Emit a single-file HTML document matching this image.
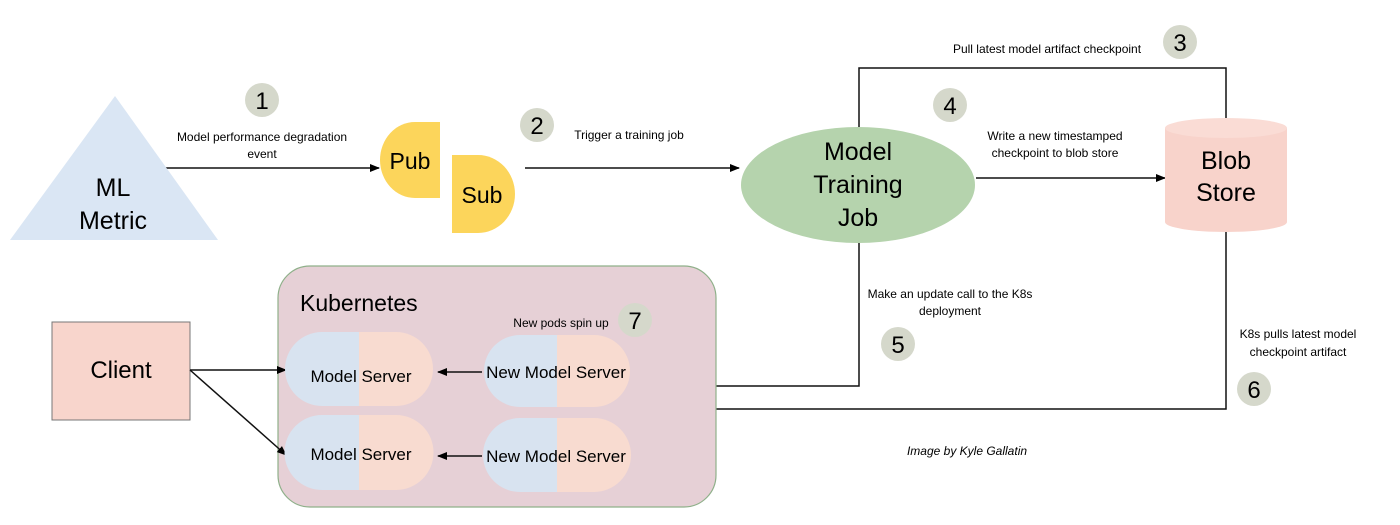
<!DOCTYPE html>
<html><head><style>html,body{margin:0;padding:0;background:#fff;}svg{display:block;}</style></head>
<body>
<svg width="1400" height="525" viewBox="0 0 1400 525" xmlns="http://www.w3.org/2000/svg" font-family="Liberation Sans, Arial, sans-serif">
<defs><marker id="a" markerWidth="10" markerHeight="10" refX="9" refY="5" orient="auto" markerUnits="userSpaceOnUse"><path d="M0,1 L10,5 L0,9 Z" fill="#000"/></marker></defs>
<g stroke="#111" stroke-width="1.5" fill="none">
<line x1="120" y1="168" x2="379" y2="168" marker-end="url(#a)"/>
<line x1="525" y1="168" x2="739" y2="168" marker-end="url(#a)"/>
<polyline points="859,127 859,68 1226,68 1226,118"/>
<line x1="976" y1="178" x2="1165" y2="178" marker-end="url(#a)"/>
<polyline points="859,243 859,386 716,386"/>
<polyline points="1226,232 1226,409 716,409"/>
</g>
<polygon points="115,96 218,240 10,240" fill="#dae6f4"/>
<text x="113" y="196" font-size="25" text-anchor="middle">ML</text>
<text x="113" y="229" font-size="25" text-anchor="middle">Metric</text>
<path d="M440,122 L440,198 L415,198 A35,38 0 0 1 415,122 Z" fill="#fcd55b"/>
<text x="410" y="169" font-size="23" text-anchor="middle">Pub</text>
<path d="M452,155 L478,155 A37,39 0 0 1 478,233 L452,233 Z" fill="#fcd55b"/>
<text x="482" y="203" font-size="23" text-anchor="middle">Sub</text>
<ellipse cx="858" cy="185" rx="117" ry="58" fill="#b5d3ad"/>
<text x="858" y="160" font-size="25" text-anchor="middle">Model</text>
<text x="858" y="193" font-size="25" text-anchor="middle">Training</text>
<text x="858" y="226" font-size="25" text-anchor="middle">Job</text>
<path d="M1165,128 L1165,222 A61,10 0 0 0 1287,222 L1287,128 Z" fill="#f8d3cb"/>
<ellipse cx="1226" cy="128" rx="61" ry="10" fill="#fadcd5"/>
<text x="1226" y="169" font-size="25" text-anchor="middle">Blob</text>
<text x="1226" y="201" font-size="25" text-anchor="middle">Store</text>
<rect x="52" y="322" width="138" height="98" fill="#f8d5cc" stroke="#777" stroke-width="1"/>
<text x="121" y="378" font-size="24" text-anchor="middle">Client</text>
<rect x="278" y="266" width="438" height="241" rx="32" fill="#e6d0d6" stroke="#8fb08a" stroke-width="1.2"/>
<text x="300" y="311" font-size="23">Kubernetes</text>
<g stroke="#111" stroke-width="1.5">
<line x1="190" y1="370" x2="286" y2="370" marker-end="url(#a)"/>
<line x1="190" y1="370" x2="286" y2="455" marker-end="url(#a)"/>
</g>
<g>
<path d="M359,332 L322,332 A37,37 0 0 0 322,406 L359,406 Z" fill="#d8e3f0"/>
<path d="M359,332 L396,332 A37,37 0 0 1 396,406 L359,406 Z" fill="#f8dbd0"/>
<path d="M359,415 L322,415 A37,37 0 0 0 322,490 L359,490 Z" fill="#d8e3f0"/>
<path d="M359,415 L396,415 A37,37 0 0 1 396,490 L359,490 Z" fill="#f8dbd0"/>
<path d="M557,335 L520,335 A36,36 0 0 0 520,407 L557,407 Z" fill="#d8e3f0"/>
<path d="M557,335 L594,335 A36,36 0 0 1 594,407 L557,407 Z" fill="#f8dbd0"/>
<path d="M557,418 L520,418 A37,37 0 0 0 520,492 L557,492 Z" fill="#d8e3f0"/>
<path d="M557,418 L594,418 A37,37 0 0 1 594,492 L557,492 Z" fill="#f8dbd0"/>
</g>
<g font-size="17" text-anchor="middle">
<text x="361" y="382">Model Server</text>
<text x="361" y="460">Model Server</text>
<text x="556" y="378">New Model Server</text>
<text x="556" y="462">New Model Server</text>
</g>
<g stroke="#111" stroke-width="1.5">
<line x1="482" y1="372" x2="438" y2="372" marker-end="url(#a)"/>
<line x1="482" y1="456" x2="438" y2="456" marker-end="url(#a)"/>
</g>
<g font-size="12" text-anchor="middle">
<text x="262" y="141">Model performance degradation</text>
<text x="262" y="158">event</text>
<text x="629" y="139">Trigger a training job</text>
<text x="1047" y="53">Pull latest model artifact checkpoint</text>
<text x="1055" y="140">Write a new timestamped</text>
<text x="1055" y="157">checkpoint to blob store</text>
<text x="950" y="298">Make an update call to the K8s</text>
<text x="950" y="315">deployment</text>
<text x="1298" y="338">K8s pulls latest model</text>
<text x="1298" y="356">checkpoint artifact</text>
<text x="561" y="327">New pods spin up</text>
<text x="967" y="455" font-style="italic">Image by Kyle Gallatin</text>
</g>
<g fill="#d5d8cb">
<circle cx="262" cy="100" r="17"/><circle cx="537" cy="125" r="17"/><circle cx="1180" cy="42" r="17"/>
<circle cx="950" cy="105" r="17"/><circle cx="898" cy="344" r="17"/><circle cx="1254" cy="389" r="17"/>
<circle cx="635" cy="320" r="17"/>
</g>
<g font-size="24" text-anchor="middle">
<text x="262" y="109">1</text><text x="537" y="134">2</text><text x="1180" y="51">3</text>
<text x="950" y="114">4</text><text x="898" y="353">5</text><text x="1254" y="398">6</text>
<text x="635" y="329">7</text>
</g>
</svg>
</body></html>
